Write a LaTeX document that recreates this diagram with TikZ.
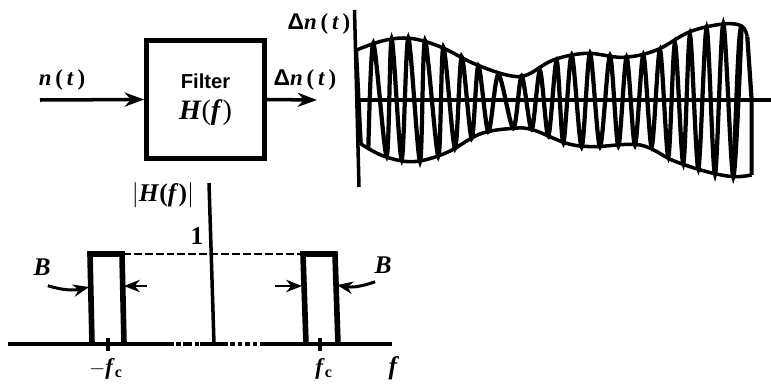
\documentclass[tikz,border=0pt]{standalone}
\usepackage{fontspec}
\setmainfont{Liberation Serif}
\setsansfont{Liberation Sans}
\usepackage{tikz}
\usetikzlibrary{arrows.meta}
\newcommand{\bfit}[1]{\textbf{\textit{#1}}}
\newcommand{\fc}{\bfit{f}\textsubscript{\textbf{c}}}
\newcommand{\dn}{\textsf{\textbf{Δ}}\bfit{n}\,(\,\bfit{t}\,)}
\tikzset{
	label text/.style={font=\fontsize{13}{15}\selectfont\bfseries, inner sep=0pt},
	big text/.style={font=\fontsize{14.5}{16}\selectfont\bfseries, inner sep=0pt},
	filter box/.style={draw, line width=2.8pt, minimum width=2.36cm, minimum height=2.36cm, align=center, inner sep=0pt},
	signal arrow/.style={line width=2pt, -{Stealth[length=11pt,width=8pt]}},
	width arrow/.style={line width=1.7pt, -{Stealth[length=9pt,width=7pt]}},
	axis line/.style={line width=2pt},
	pass band/.style={line width=3.2pt, line join=miter},
}
\begin{document}
\begin{tikzpicture}[x=0.02cm, y=-0.02cm, >=stealth]
	\useasboundingbox (0,0) rectangle (771,385);
	% filter block
	\node[filter box] (filter) at (205.5,99.5)
		{\fontsize{11.5}{13}\selectfont\sffamily\bfseries Filter\\[6pt]\fontsize{16}{18}\selectfont\rmfamily\bfit{H}(\bfit{f})};
	\coordinate (input) at (40,100);
	\coordinate (output) at (317,100);
	\draw[signal arrow] (input) -- (filter.west);
	\draw[signal arrow] (filter.east) -- (output);
	\node[label text] (lblin) at (62,80) {\bfit{n}\,(\,\bfit{t}\,)};
	\node[label text] (lblout) at (305,80) {\dn};
	\node[label text] (lblwave) at (319,24) {\dn};
	% filtered noise
	\draw[axis line] (354.5,10) -- (359,187);
	\draw[axis line] (356,100) -- (771,100);
	\begin{scope}[shift={(340,0)}, scale=0.3333]
		% envelope
		\draw[line width=2pt] plot[smooth, tension=0.6] coordinates {(50,150) (130,122) (210,115) (300,140) (400,190) (500,225) (560,225) (640,180) (740,160) (850,172) (950,150) (1050,95) (1150,72) (1205,78) (1222,110)};
		\draw[line width=2pt] plot[smooth, tension=0.6] coordinates {(60,430) (130,468) (220,485) (320,458) (420,402) (520,385) (580,390) (680,430) (760,440) (900,435) (1000,482) (1100,515) (1180,530) (1235,525)};
		% carrier
		\draw[line width=2.4pt] (48,150) -- (62,430);
		\draw[line width=2.4pt] plot[smooth, tension=0.5] coordinates {(85,445) (100,130) (140,468) (155,118) (185,478) (205,115) (240,484) (255,122) (295,468) (310,142) (345,445) (365,170) (395,415) (415,197) (445,395) (475,224) (520,385) (545,228) (575,388) (600,212) (625,408) (650,182) (670,428) (695,165) (725,440) (750,160) (780,440) (810,167) (835,437) (860,172) (885,435) (910,165) (935,440) (960,150) (985,470) (1005,130) (1030,490) (1050,105) (1075,505) (1100,85) (1125,522) (1150,72) (1180,530) (1205,78)};
		\draw[line width=2.4pt] (1222,110) -- (1235,300) -- (1235,525);
		\draw[line width=2.4pt] (1180,530) .. controls (1190,300) and (1195,78) .. (1205,78);
	\end{scope}
	% transfer function
	\coordinate (origin) at (214,344);
	\coordinate (axistop) at (209,183);
	\draw[axis line] (axistop) -- (origin);
	\draw[axis line] (8,344) -- (165,344);
	\draw[axis line, dash pattern=on 5pt off 1.5pt on 2.5pt off 1.5pt] (165,344) -- (200,344);
	\draw[axis line] (200,344) -- (228,344);
	\draw[axis line, dash pattern=on 3pt off 1.5pt on 2.5pt off 1.5pt] (230,344) -- (262,344);
	\draw[axis line] (262,344) -- (392,344);
	\draw[pass band] (92,344) -- (90,254) -- (122,254) -- (124,344);
	\draw[pass band] (306,344) -- (303,254) -- (335,254) -- (338,344);
	\draw[line width=1.6pt, dash pattern=on 4.5pt off 1.7pt] (123,254) -- (303,254);
	\draw[axis line] (108,338) -- (108,351);
	\draw[axis line] (320,338) -- (320,351);
	\node[big text] (lblH) at (163,195) {$\bigl|$\bfit{H}(\bfit{f})$\bigr|$};
	\node[big text] (lblone) at (197,236) {1};
	\node[big text] (lblBl) at (42,267) {\bfit{B}};
	\node[big text] (lblBr) at (383,265) {\bfit{B}};
	\node[label text] (lblfl) at (106,369) {$-$\fc};
	\node[label text] (lblfr) at (324,369) {\fc};
	\node[big text] (lblf) at (394,368) {\bfit{f}};
	% bandwidth arrows
	\coordinate (bl) at (89,287);
	\coordinate (ll) at (124,286);
	\coordinate (lr) at (147,286);
	\coordinate (rl) at (275,286);
	\coordinate (rr) at (302,286);
	\coordinate (br) at (337,285);
	\draw[width arrow] (lblBl.south east) ++(-3,10) to[bend right=15] (bl);
	\draw[width arrow] (lr) -- (ll);
	\draw[width arrow] (rl) -- (rr);
	\draw[width arrow] (lblBr.south west) ++(1,8) to[bend left=15] (br);
\end{tikzpicture}
\end{document}
